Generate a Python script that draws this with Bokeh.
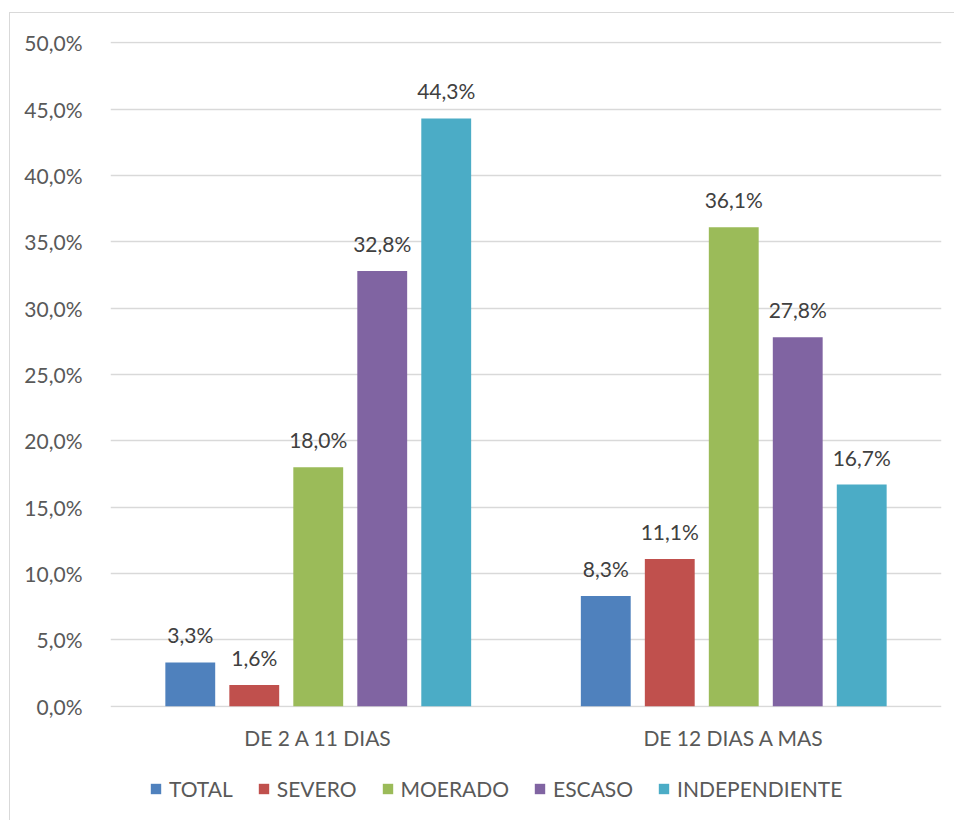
from bokeh.plotting import figure
from bokeh.layouts import column
from bokeh.models import ColumnDataSource, FactorRange, Legend, LegendItem, FixedTicker, Range1d
from bokeh.transform import dodge
from bokeh.core.properties import value
from bokeh.embed import file_html
from bokeh.resources import INLINE

groups = ["DE 2 A 11 DIAS", "DE 12 DIAS A MAS"]
series = ["TOTAL", "SEVERO", "MOERADO", "ESCASO", "INDEPENDIENTE"]
colors = ["#4F81BD", "#C0504D", "#9BBB59", "#8064A2", "#4BACC6"]
total = [3.3, 8.3]
severo = [1.6, 11.1]
moerado = [18.0, 36.1]
escaso = [32.8, 27.8]
independiente = [44.3, 16.7]
tick_values = [0, 5, 10, 15, 20, 25, 30, 35, 40, 45, 50]
tick_labels = ["0,0%", "5,0%", "10,0%", "15,0%", "20,0%", "25,0%",
               "30,0%", "35,0%", "40,0%", "45,0%", "50,0%"]

FONT = "Lato"
TXT = "#595959"
FS = "21px"

data = {"group": groups}
for name, vals in zip(series, [total, severo, moerado, escaso, independiente]):
    data[name] = vals
    data[name + "_lbl"] = [f"{v:.1f}".replace(".", ",") + "%" for v in vals]
source = ColumnDataSource(data)

p = figure(x_range=FactorRange(*groups, range_padding=0), y_range=Range1d(-0.1, 50.1),
           width=945, height=748, output_backend="svg", toolbar_location=None,
           min_border_left=100, min_border_right=14, min_border_top=28, min_border_bottom=54)
p.outline_line_color = None
p.background_fill_color = "white"
p.border_fill_color = "white"

pitch = 0.154
offsets = [-2 * pitch, -pitch, 0, pitch, 2 * pitch]
for name, col, off in zip(series, colors, offsets):
    p.vbar(x=dodge("group", off, range=p.x_range), top=name, bottom=0, width=0.12,
           source=source, fill_color=col, line_color=None)
    p.text(x=dodge("group", off, range=p.x_range), y=name, text=name + "_lbl",
           source=source, text_align="center", text_baseline="bottom", y_offset=-15,
           text_font=value(FONT), text_font_size=FS, text_color="#404040")

p.yaxis.ticker = FixedTicker(ticks=tick_values)
p.yaxis.major_label_overrides = {t: l for t, l in zip(tick_values, tick_labels)}
p.yaxis.axis_line_color = None
p.yaxis.major_tick_line_color = None
p.yaxis.minor_tick_line_color = None
p.yaxis.major_label_standoff = 22
p.yaxis.major_label_text_font = FONT
p.yaxis.major_label_text_font_size = FS
p.yaxis.major_label_text_color = TXT

p.xaxis.axis_line_color = None
p.xaxis.major_tick_line_color = None
p.xaxis.major_label_standoff = 11
p.xaxis.major_label_text_font = FONT
p.xaxis.major_label_text_font_size = FS
p.xaxis.major_label_text_color = TXT

p.xgrid.grid_line_color = None
p.ygrid.grid_line_color = "#d9d9d9"
p.ygrid.grid_line_width = 1.3
p.ygrid.ticker = FixedTicker(ticks=tick_values)

# legend strip below the chart (same series as hidden renderers, used only for the key)
leg = figure(width=945, height=60, output_backend="svg", toolbar_location=None,
             x_range=FactorRange(*groups, range_padding=0), y_range=Range1d(-2, -1),
             min_border=0, x_axis_type=None, y_axis_type=None)
leg.outline_line_color = None
leg.grid.visible = False
leg.border_fill_color = "white"
leg.background_fill_color = "white"
items = []
for name, col, off in zip(series, colors, offsets):
    r = leg.vbar(x=dodge("group", off, range=leg.x_range), top=name, bottom=0, width=0.12,
                 source=source, fill_color=col, line_color=None, visible=False)
    items.append(LegendItem(label=name, renderers=[r]))
legend = Legend(items=items, orientation="horizontal", location=(39, 20),
                label_text_font=FONT, label_text_font_size=FS, label_text_color=TXT,
                glyph_width=13, glyph_height=13, label_standoff=7, spacing=24,
                border_line_color=None, background_fill_alpha=0, padding=0, margin=0,
                inactive_fill_alpha=0)
leg.add_layout(legend, "center")

layout = column(p, leg, spacing=0, margin=(12, 0, 0, 9))
layout.styles = {"border-left": "1px solid #d9d9d9", "border-top": "1px solid #d9d9d9"}

open("out.html", "w").write(file_html(layout, INLINE))
